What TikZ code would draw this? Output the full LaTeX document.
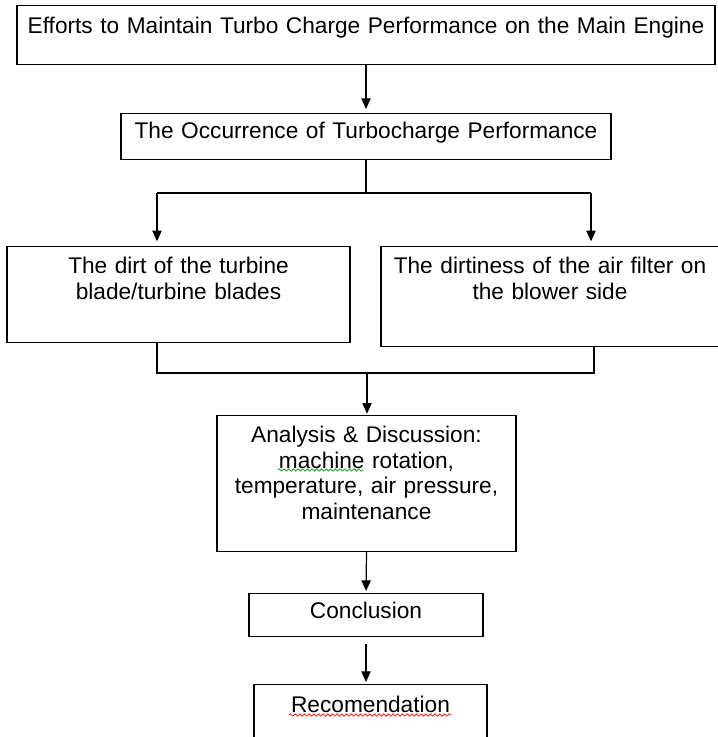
\documentclass[tikz,border=0pt]{standalone}
\usepackage{fontspec}
\setmainfont{Liberation Sans}
\usetikzlibrary{arrows.meta, decorations.pathmorphing}
\tikzset{
    x=0.75pt, y=-0.75pt, % one unit is one pixel of the reference
    >={Triangle[length=8pt, width=7pt]}, % filled arrow heads
    box/.style={draw, line width=0.9pt, inner sep=0pt, align=center, anchor=north, font=\fontsize{17}{19.2}\selectfont}, % every text box
    link/.style={line width=0.9pt}, % plain connecting lines
    arrow/.style={link, ->}, % connecting lines with a head
    squiggle/.style={line width=0.5pt, decorate, decoration={snake, amplitude=0.9pt, segment length=3.5pt}}, % spell check marks
}
\begin{document}
\begin{tikzpicture}
    \useasboundingbox (0,0) rectangle (717,737);
    \node[box, text width=523.5pt, text height=21pt, text depth=23.25pt] (eff) at (366,5) {Efforts to Maintain Turbo Charge Performance on the Main Engine};
    \node[box, text width=367.5pt, text height=18.75pt, text depth=15.75pt] (occ) at (366,113) {The Occurrence of Turbocharge Performance};
    \node[box, text width=257.25pt, text height=20.25pt, text depth=51.75pt] (dirt) at (178.5,246) {The dirt of the turbine\\blade/turbine blades};
    \node[box, text width=253.5pt, text height=20.25pt, text depth=54.75pt] (filt) at (550,246) {The dirtiness of the air filter on\\the blower side};
    \node[box, text width=224.25pt, text height=20.25pt, text depth=81.75pt] (ana) at (366.5,415) {Analysis \& Discussion:\\machine rotation,\\temperature, air pressure,\\maintenance};
    \node[box, text width=175.5pt, text height=18.75pt, text depth=13.5pt] (con) at (366,593) {Conclusion};
    \node[box, text width=174.75pt, text height=21pt, text depth=36pt] (rec) at (370.5,684) {Recomendation};
    % fork and join points
    \coordinate (fork) at (366,193);
    \coordinate (forkl) at (157,193);
    \coordinate (forkr) at (591,193);
    \coordinate (join) at (367,373);
    \coordinate (joinl) at (157,373);
    \coordinate (joinr) at (594,373);
    \draw[arrow, shorten >=3pt] (eff.south) -- (occ.north);
    \draw[link] (occ.south) -- (fork);
    \draw[link] (forkl) -- (forkr);
    \draw[arrow, shorten >=3.5pt] (forkl) -- (forkl |- dirt.north);
    \draw[arrow, shorten >=3.5pt] (forkr) -- (forkr |- filt.north);
    \draw[link] (joinl |- dirt.south) -- (joinl) -- (joinr) -- (joinr |- filt.south);
    \draw[arrow, shorten >=1pt] (join) -- (join |- ana.north);
    \draw[arrow, shorten >=1.5pt] (ana.south) -- (con.north);
    \draw[arrow, shorten <=5pt, shorten >=1.5pt] (con.south) -- (con.south |- rec.north);
    % spell check marks
    \draw[squiggle, green!60!black] (278,470) -- (363,470);
    \draw[squiggle, red] (289,715) -- (451,715);
\end{tikzpicture}
\end{document}
